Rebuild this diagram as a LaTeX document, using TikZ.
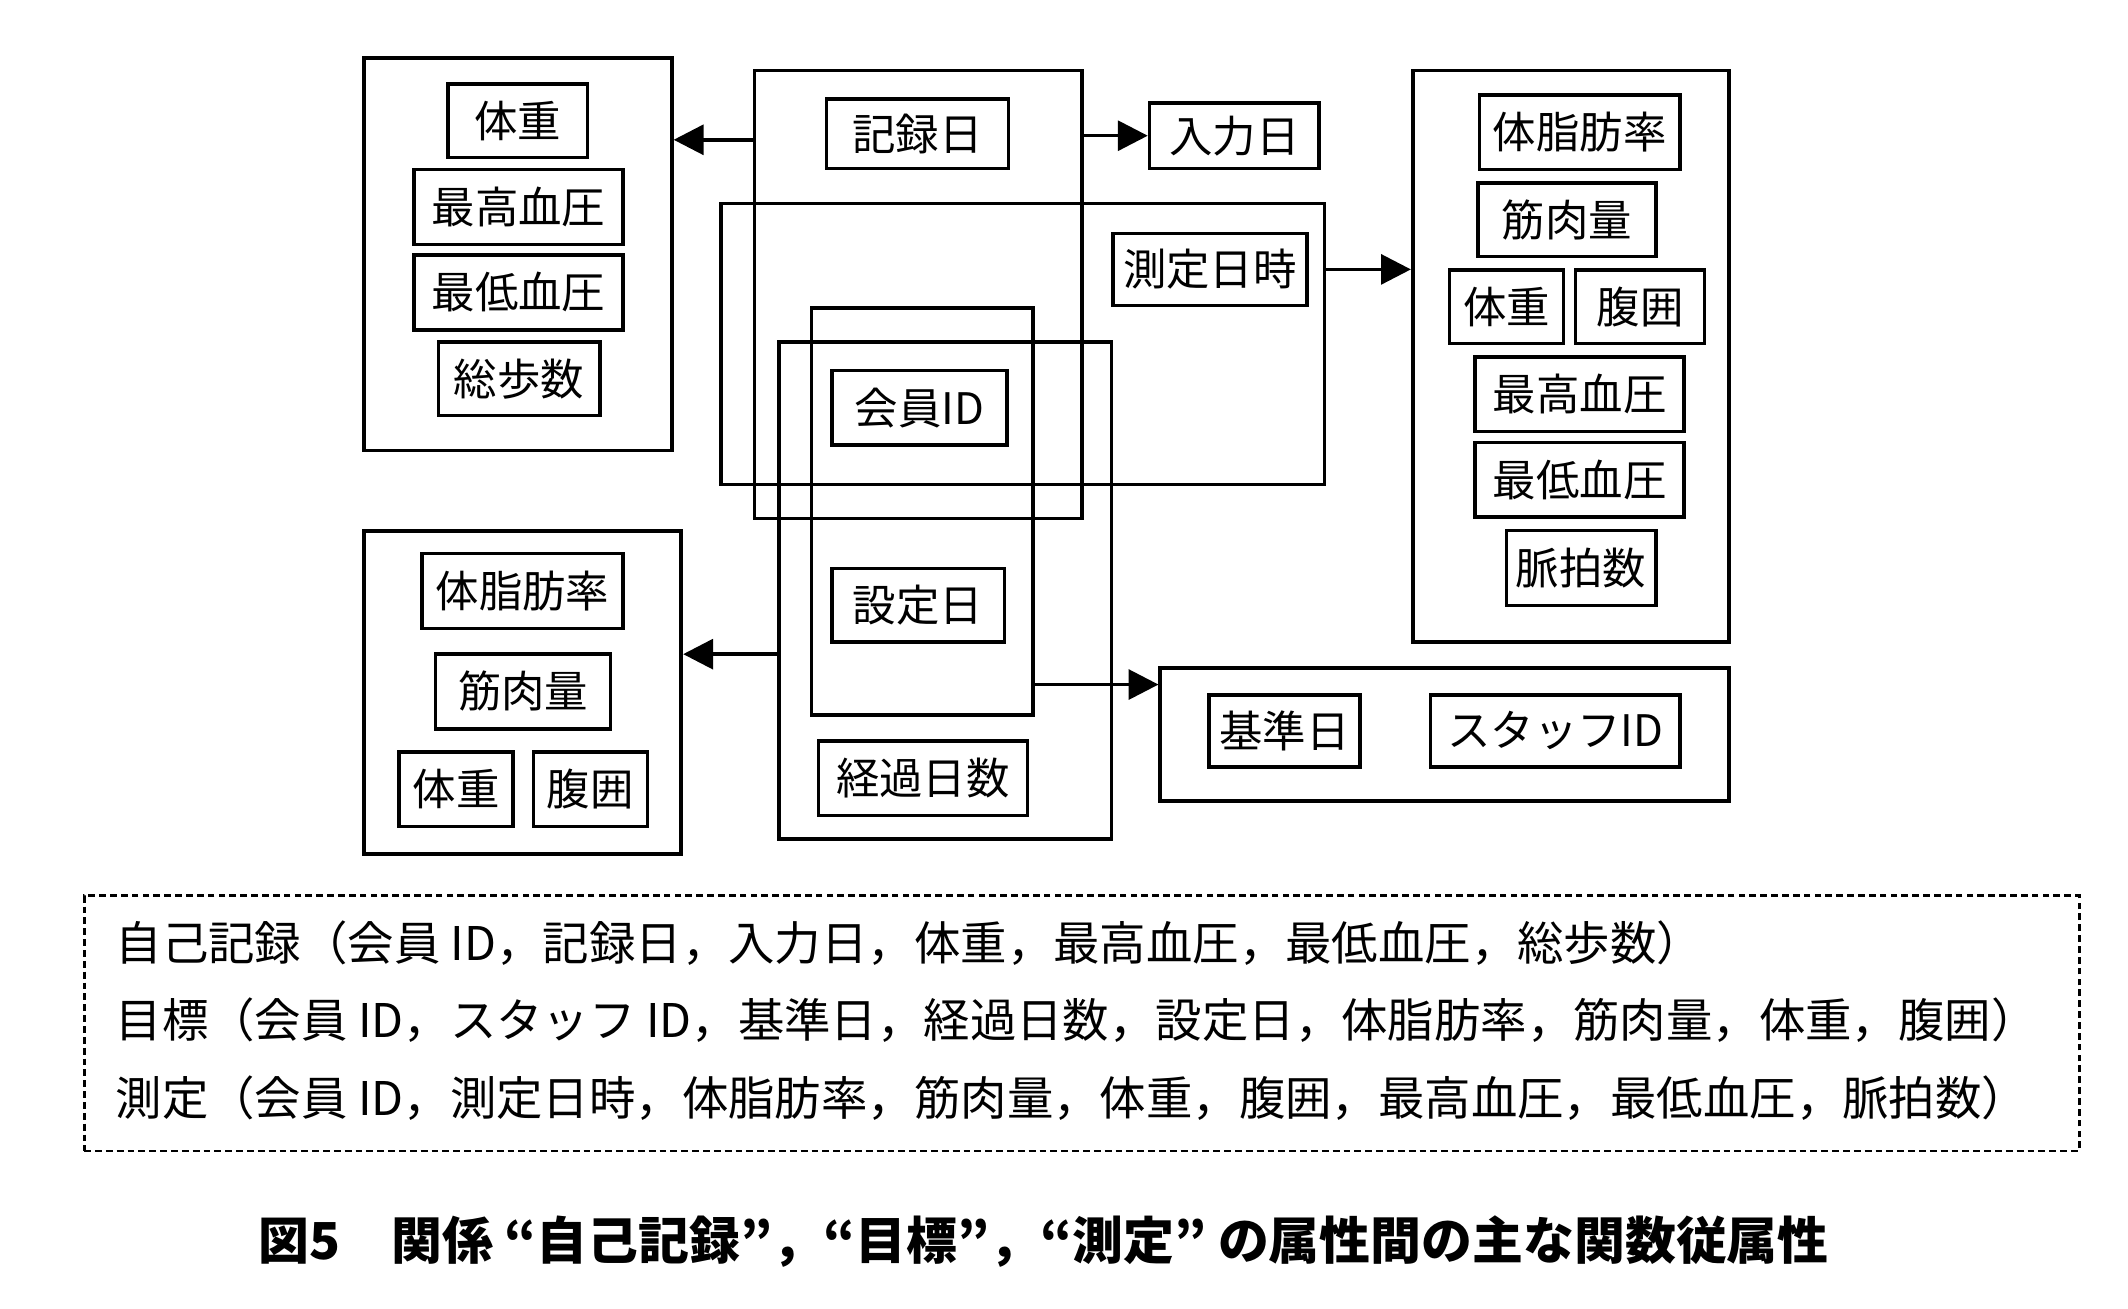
\documentclass[tikz,border=0pt]{standalone}
\usepackage{fontspec}
\setmainfont{Noto Sans CJK JP}
\usetikzlibrary{arrows.meta}

\begin{document}
\begin{tikzpicture}[
  x=1pt, y=-1pt,
  every node/.style={align=center, inner sep=0pt, font=\fontsize{32}{38}\selectfont},
  group/.style={draw, line width=2.8pt},
  attr/.style={draw, line width=2.6pt, minimum height=54pt},
  flow/.style={-{Triangle[length=22pt,width=22pt]}, line width=2.6pt},
  relbox/.style={draw, line width=2pt, dash pattern=on 5pt off 3pt}]

\useasboundingbox (0,0) rectangle (1568,964);

% Self-record: record date and what it determines
\node[group, minimum width=241pt, minimum height=330pt] (recordGroup) at (676.5,217) {};
\node[attr, minimum width=134pt, minimum height=51pt] (recordDate) at (676,98.5) {記録日};
\node[attr, minimum width=125pt, minimum height=48pt] (inputDate) at (909.5,100) {入力日};
\node[group, minimum width=227pt, minimum height=289pt] (recordAttrs) at (381.5,187.5) {};
\node[attr, minimum width=103pt] (recWeight) at (381.5,89) {体重};
\node[attr, minimum width=154pt, minimum height=55pt] (recSystolic) at (382,152.5) {最高血圧};
\node[attr, minimum width=154pt, minimum height=55pt] (recDiastolic) at (382,215.5) {最低血圧};
\node[attr, minimum width=119pt] (recSteps) at (382.5,279) {総歩数};

% Measurement: measured date/time and its dependents
\node[group, minimum width=445pt, minimum height=207pt] (measureGroup) at (753.5,253.5) {};
\node[attr, minimum width=143pt, minimum height=53pt] (measureTime) at (891.5,198.5) {測定日時};
\node[group, minimum width=233pt, minimum height=421pt] (measureAttrs) at (1157.5,262.5) {};
\node[attr, minimum width=148pt, minimum height=55pt] (meaFat) at (1164,97.5) {体脂肪率};
\node[attr, minimum width=131pt] (meaMuscle) at (1154.5,162) {筋肉量};
\node[attr, minimum width=84pt] (meaWeight) at (1110,226) {体重};
\node[attr, minimum width=95pt] (meaWaist) at (1208.5,226) {腹囲};
\node[attr, minimum width=154pt, minimum height=55pt] (meaSystolic) at (1164,290.5) {最高血圧};
\node[attr, minimum width=154pt, minimum height=55pt] (meaDiastolic) at (1164,353.5) {最低血圧};
\node[attr, minimum width=110pt, minimum height=55pt] (meaPulse) at (1165,418.5) {脈拍数};

% Goal: member ID + set date, elapsed days
\node[group, minimum width=163pt, minimum height=300pt] (memberGroup) at (679.5,377) {};
\node[group, minimum width=245pt, minimum height=366pt] (goalGroup) at (696.5,435) {};
\node[attr, minimum width=129pt, minimum height=55pt] (memberId) at (677.5,300.5) {会員ID};
\node[attr, minimum width=127pt] (setDate) at (676.5,446) {設定日};
\node[attr, minimum width=154pt, minimum height=55pt] (elapsedDays) at (680,573.5) {経過日数};
\node[group, minimum width=234pt, minimum height=238pt] (goalAttrs) at (385,510) {};
\node[attr, minimum width=148pt, minimum height=55pt] (goalFat) at (385,435.5) {体脂肪率};
\node[attr, minimum width=129pt, minimum height=55pt] (goalMuscle) at (385.5,509.5) {筋肉量};
\node[attr, minimum width=84pt, minimum height=55pt] (goalWeight) at (336,581.5) {体重};
\node[attr, minimum width=84pt, minimum height=55pt] (goalWaist) at (435,581.5) {腹囲};
\node[group, minimum width=419pt, minimum height=98pt] (staffGroup) at (1064.5,541) {};
\node[attr, minimum width=111pt, minimum height=53pt] (baseDate) at (946.5,538.5) {基準日};
\node[attr, minimum width=184pt, minimum height=53pt] (staffId) at (1146,538.5) {スタッフID};

% Draw the dependency arrows
\draw[flow] ([yshift=-4.5pt]recordGroup.west |- recordDate) -- ([yshift=-4.5pt]recordAttrs.east |- recordDate);
\draw[flow] (recordGroup.east |- inputDate) -- (inputDate.west);
\draw[flow] (measureGroup.east |- measureTime) -- (measureAttrs.west |- measureTime);
\draw[flow] ([yshift=-47pt]goalGroup.west) coordinate (goalOut) -- (goalOut -| goalAttrs.east);
\draw[flow] ([yshift=24pt]memberGroup.south east) coordinate (memberOut) -- (memberOut -| staffGroup.west);

% Relation schemas and caption
\node[relbox, minimum width=1470pt, minimum height=188pt] (relationBox) at (797,754) {};
\node[anchor=west, align=left, font=\fontsize{34.2}{57}\selectfont] (relations) at (85,752)
  {自己記録（会員 ID，記録日，入力日，体重，最高血圧，最低血圧，総歩数）\\
   目標（会員 ID，スタッフ ID，基準日，経過日数，設定日，体脂肪率，筋肉量，体重，腹囲）\\
   測定（会員 ID，測定日時，体脂肪率，筋肉量，体重，腹囲，最高血圧，最低血圧，脈拍数）};
\node[font=\bfseries\fontsize{37.5}{44}\selectfont] (caption) at (769,915)
  {図5\quad 関係 “自己記録”，“目標”，“測定” の属性間の主な関数従属性};

\end{tikzpicture}
\end{document}
